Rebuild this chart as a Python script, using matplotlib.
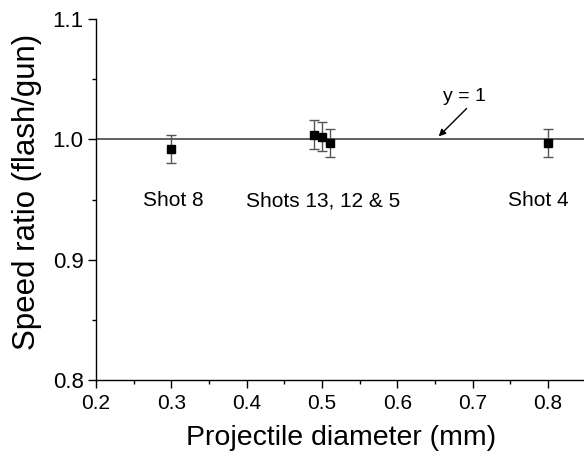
import numpy as np
import matplotlib
matplotlib.use("Agg")
import matplotlib.pyplot as plt
from matplotlib.ticker import MultipleLocator

plt.rcParams["font.family"] = ["Liberation Sans", "DejaVu Sans"]

# data
diam = [0.30, 0.49, 0.50, 0.51, 0.80]
ratio = [0.992, 1.004, 1.002, 0.997, 0.997]
err = [0.012, 0.012, 0.012, 0.012, 0.012]
shot_text = ["Shot 8", "Shots 13, 12 & 5", "Shot 4"]
shot_x = [0.303, 0.502, 0.787]
shot_y = [0.949, 0.949, 0.949]

fig = plt.figure(figsize=(5.84, 4.57), dpi=100)
ax = fig.add_axes([96 / 584, 77 / 457, 489.6 / 584, 361 / 457])

ax.axhline(1.0, color="#444444", lw=1.2, zorder=1)
ax.errorbar(diam, ratio, yerr=err, fmt="s", color="black", ms=6,
            ecolor="#555555", elinewidth=1.0, capsize=3.5, capthick=1.0,
            zorder=3)

for t, x, y in zip(shot_text, shot_x, shot_y):
    ax.text(x, y, t, ha="center", va="center", fontsize=15)

ax.text(0.689, 1.036, "y = 1", ha="center", va="center", fontsize=14)
ax.annotate("", xy=(0.655, 1.0025), xytext=(0.692, 1.0256),
            arrowprops=dict(arrowstyle="-|>", color="black", lw=1.0,
                            mutation_scale=10, shrinkA=0, shrinkB=0))

ax.set_xlim(0.2, 0.85)
ax.set_ylim(0.8, 1.1)
ax.xaxis.set_major_locator(MultipleLocator(0.1))
ax.xaxis.set_minor_locator(MultipleLocator(0.05))
ax.yaxis.set_major_locator(MultipleLocator(0.1))
ax.yaxis.set_minor_locator(MultipleLocator(0.05))
ax.xaxis.set_major_formatter(plt.FuncFormatter(lambda v, p: "%.1f" % v))
ax.yaxis.set_major_formatter(plt.FuncFormatter(lambda v, p: "%.1f" % v))

for s in ["top", "right"]:
    ax.spines[s].set_visible(False)
for s in ["left", "bottom"]:
    ax.spines[s].set_linewidth(1.0)

ax.tick_params(which="major", direction="out", length=6, width=1.0, pad=3)
ax.tick_params(which="minor", direction="out", length=3, width=1.0)
ax.tick_params(axis="x", labelsize=15, pad=4)
ax.tick_params(axis="y", labelsize=16)

ax.set_xlabel("Projectile diameter (mm)", fontsize=20.5, labelpad=9)
ax.set_ylabel("Speed ratio (flash/gun)", fontsize=22.5)
ax.yaxis.set_label_coords(-0.11, 0.52)

fig.savefig("out.png", dpi=100)
